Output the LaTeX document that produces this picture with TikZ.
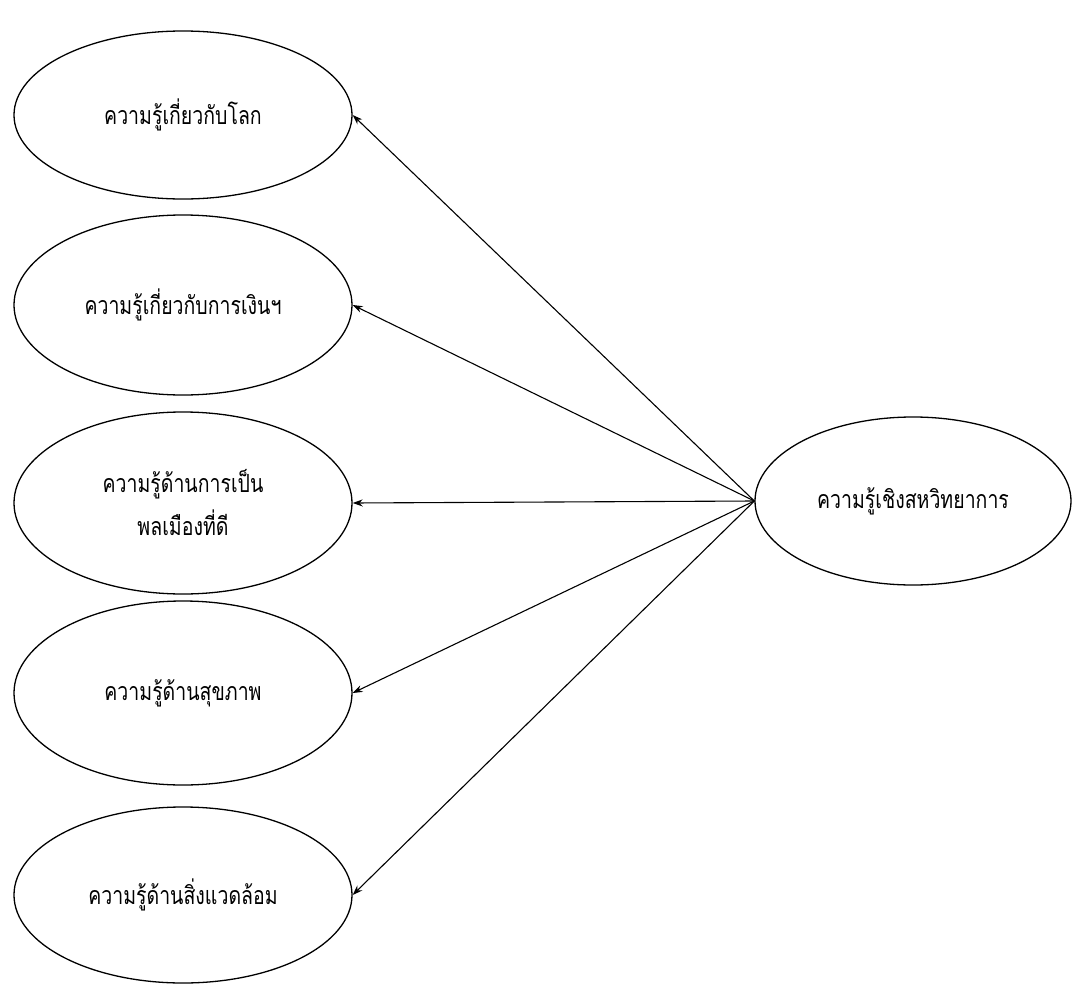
\documentclass[tikz,border=0pt]{standalone}
\usepackage{fontspec}
\newfontfamily\thaifont[Script=Thai,FakeStretch=0.78]{Loma}
\usetikzlibrary{arrows.meta,shapes.geometric}
\begin{document}
\begin{tikzpicture}[x=1pt,y=-1pt,
  oval/.style={ellipse,draw,line width=1.3pt,inner sep=0pt,
    minimum width=338pt,align=center,font=\thaifont\fontsize{25}{43}\selectfont},
  link/.style={line width=1.1pt,-{Stealth[length=10pt,width=7pt]}}]
\useasboundingbox (0,0) rectangle (1072,985);
% left column of knowledge domains
\node[oval,minimum height=168pt] (E1) at (183,115) {ความรู้เกี่ยวกับโลก};
\node[oval,minimum height=180pt] (E2) at (183,305) {ความรู้เกี่ยวกับการเงินฯ};
\node[oval,minimum height=182pt] (E3) at (183,503) {ความรู้ด้านการเป็น\\พลเมืองที่ดี};
\node[oval,minimum height=184pt] (E4) at (183,693) {ความรู้ด้านสุขภาพ};
\node[oval,minimum height=176pt] (E5) at (183,895) {ความรู้ด้านสิ่งแวดล้อม};
% interdisciplinary knowledge on the right
\node[oval,minimum width=316pt,minimum height=168pt] (R) at (913,501) {ความรู้เชิงสหวิทยาการ};
\foreach \t in {E1,E2,E3,E4,E5}
  \draw[link] (R.west) -- (\t.east);
\end{tikzpicture}
\end{document}
